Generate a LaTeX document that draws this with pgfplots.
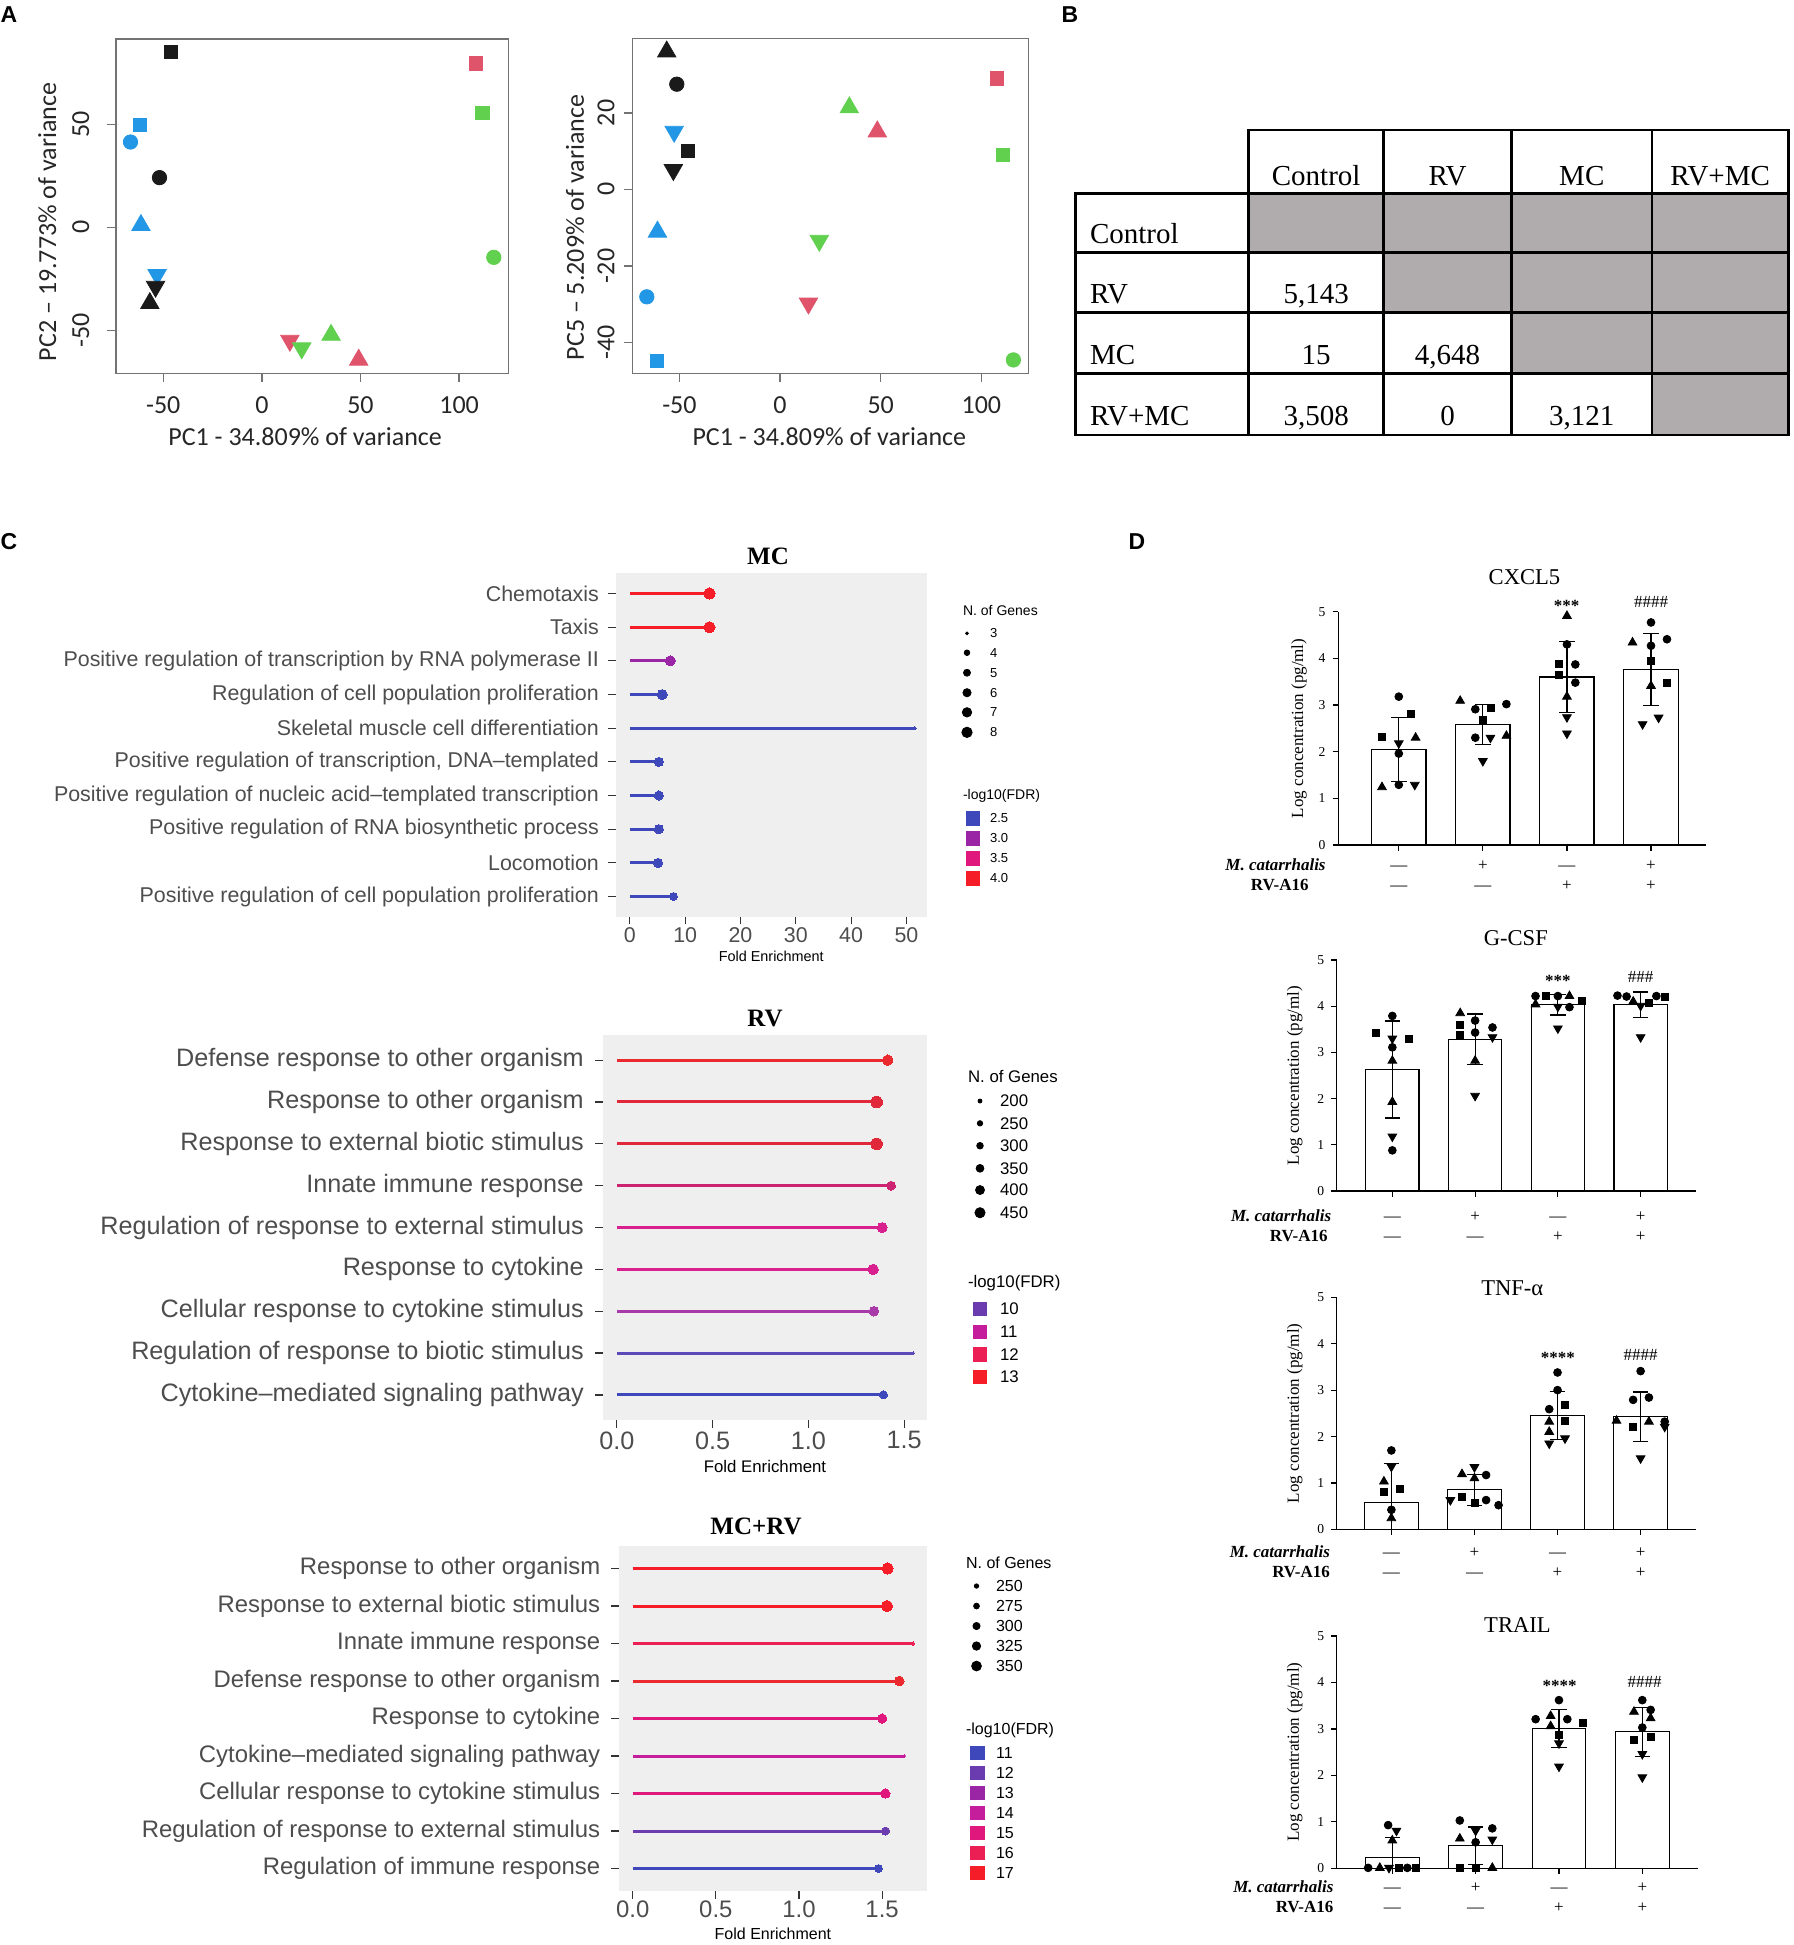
\documentclass[border=0pt]{standalone}
\usepackage{pgfplots}
\pgfplotsset{compat=1.18}
\usepackage{fontspec}
\setmainfont{Liberation Sans}
\newfontfamily\timesf{Liberation Serif}
\newfontfamily\calib{Carlito}
\newcommand{\fs}[1]{\fontsize{#1}{#1}\selectfont}

% R 4 palette for the PCA
\definecolor{rblack}{HTML}{1A1A1A}
\definecolor{rred}{HTML}{DF536B}
\definecolor{rgreen}{HTML}{61D04F}
\definecolor{rblue}{HTML}{2297E6}
% ggplot bits
\definecolor{ggbg}{HTML}{EFEFEF}
\definecolor{ggtext}{HTML}{4D4D4D}
\definecolor{ggtick}{HTML}{333333}
\definecolor{cellgray}{HTML}{B0ACAD}
% -log10(FDR) gradient, blue to red
\definecolor{fa}{HTML}{3F48BA}
\definecolor{fb}{HTML}{6A3CB0}
\definecolor{fc}{HTML}{9A26A6}
\definecolor{fd}{HTML}{C41E9C}
\definecolor{fe}{HTML}{E0187E}
\definecolor{ff}{HTML}{EC1F55}
\definecolor{fg}{HTML}{F51E28}
\definecolor{rvA}{HTML}{EA2A2E}
\definecolor{rvB}{HTML}{E0283A}
\definecolor{rvC}{HTML}{CC2470}
\definecolor{rvD}{HTML}{D8208E}
\definecolor{rvE}{HTML}{A83AAA}
\definecolor{rvF}{HTML}{5B4AB8}

\pgfplotsset{
  pca/.style={
    scale only axis, anchor=south west, clip=false,
    axis line style={black!55, line width=0.7pt},
    tick style={black!55, line width=0.7pt},
    tick align=outside, xtick pos=left, ytick pos=left,
    major tick length=4.2pt,
    /pgf/number format/assume math mode=true,
    ticklabel style={font=\calib\fs{13}, text=black!85},
    label style={font=\calib\fs{13}, text=black!85},
    yticklabel style={rotate=90, anchor=south},
    xticklabel shift=4.1pt,
    xtick={-50,0,50,100}, xmin=-74, xmax=125,
    xlabel={PC1 - 34.809\% of variance},
    xlabel style={anchor=center}, ylabel style={anchor=center},
  },
  sq/.style={only marks, mark=square*, mark size=3.3pt},
  ci/.style={only marks, mark=*, mark size=3.6pt},
  tu/.style={only marks, mark=triangle*, mark size=5.3pt},
  td/.style={only marks, mark=triangle*, mark size=5.3pt, mark options={rotate=180}},
  gg/.style={
    scale only axis, anchor=south west, clip=false, y dir=reverse,
    axis background/.style={fill=ggbg},
    axis line style={draw=none},
    tick align=outside, xtick pos=left, ytick pos=left,
    major tick length=3.8pt,
    tick style={ggtick, line width=0.6pt},
    ticklabel style={text=ggtext},
    /pgf/number format/assume math mode=true,
    xlabel={Fold Enrichment},
    xlabel style={anchor=center, text=black},
  },
  dd/.style={
    scale only axis, anchor=south west, clip=false,
    axis x line*=bottom, axis y line*=left,
    axis line style={black, line width=0.6pt},
    xtick pos=left, ytick pos=left, tick align=outside,
    major tick length=2.8pt,
    tick style={black, line width=0.6pt},
    ymin=0, ymax=5, ytick={0,1,2,3,4,5},
    xtick={0,1,2,3}, xticklabels={,,,},
    /pgf/number format/assume math mode=true,
    ticklabel style={font=\timesf\fs{6.8}},
    ylabel={Log concentration (pg/ml)},
    ylabel style={font=\timesf\fs{8.5}, anchor=center},
  },
  dbar/.style={ybar, bar width=0.645, fill=white, draw=black, line width=0.6pt,
    error bars/y dir=both, error bars/y explicit,
    error bars/error bar style={black, line width=0.6pt},
    error bars/error mark options={rotate=90, black, mark size=3.9pt, line width=0.6pt}},
  dsq/.style={only marks, mark=square*, mark size=1.75pt, black},
  dci/.style={only marks, mark=*, mark size=1.95pt, black},
  dtu/.style={only marks, mark=triangle*, mark size=2.5pt, black},
  dtd/.style={only marks, mark=triangle*, mark size=2.5pt, black, mark options={rotate=180}},
  tbl/.style={black, line width=1.3pt, line cap=rect},
}

% lollipop: colour, dot size, fold enrichment, row
\newcommand{\lol}[4]{\addplot[draw=#1, line width=1.5pt, mark=*, mark indices={2}, mark size=#2pt, mark options={fill=#1, draw=#1, line width=0pt}] coordinates {(0,#4) (#3,#4)};}
% legend keys in the page axis
\newcommand{\ldot}[3]{\addplot[only marks, mark=*, mark size=#1pt, black] coordinates {(#2,#3)};}
\newcommand{\lsq}[3]{\addplot[only marks, mark=square*, mark size=3.4pt, #1] coordinates {(#2,#3)};}

\begin{document}
\begin{tikzpicture}
\path[use as bounding box] (0pt,0pt) rectangle (897pt,-972.5pt);

% ---------- page axis: letters, table, titles, legends, labels ----------
\begin{axis}[at={(0pt,0pt)}, anchor=north west, scale only axis,
  width=897pt, height=972.5pt, xmin=0, xmax=1794, ymin=0, ymax=1945,
  y dir=reverse, hide axis, clip=false]
\node[font=\bfseries\fs{11.5}] at (axis cs:9,15) {A};
\node[font=\bfseries\fs{11.5}] at (axis cs:1070,15) {B};
\node[font=\bfseries\fs{11.5}] at (axis cs:9,542) {C};
\node[font=\bfseries\fs{11.5}] at (axis cs:1137,542) {D};

% table B
\addplot[fill=cellgray, draw=none] coordinates {(1248.7,193.3) (1788.3,193.3) (1788.3,435) (1652,435) (1652,373.3) (1511.5,373.3) (1511.5,312.3) (1383.6,312.3) (1383.6,252.7) (1248.7,252.7)};
\addplot[tbl] coordinates {(1248.7,130) (1788.3,130)};
\addplot[tbl] coordinates {(1075.2,193.3) (1788.3,193.3)};
\addplot[tbl] coordinates {(1075.2,252.7) (1788.3,252.7)};
\addplot[tbl] coordinates {(1075.2,312.3) (1788.3,312.3)};
\addplot[tbl] coordinates {(1075.2,373.3) (1788.3,373.3)};
\addplot[tbl] coordinates {(1075.2,435) (1788.3,435)};
\addplot[tbl] coordinates {(1075.2,193.3) (1075.2,435)};
\addplot[tbl] coordinates {(1248.7,130) (1248.7,435)};
\addplot[tbl] coordinates {(1383.6,130) (1383.6,435)};
\addplot[tbl] coordinates {(1511.5,130) (1511.5,435)};
\addplot[tbl] coordinates {(1652,130) (1652,435)};
\addplot[tbl] coordinates {(1788.3,130) (1788.3,435)};
\begin{scope}[every node/.style={font=\timesf\fs{14.5}}]
\node[anchor=base] at (axis cs:1316.2,185) {Control};
\node[anchor=base] at (axis cs:1447.6,185) {RV};
\node[anchor=base] at (axis cs:1581.8,185) {MC};
\node[anchor=base] at (axis cs:1720.2,185) {RV+MC};
\node[anchor=base west] at (axis cs:1083,243.3) {Control};
\node[anchor=base west] at (axis cs:1083,303.3) {RV};
\node[anchor=base west] at (axis cs:1083,364.3) {MC};
\node[anchor=base west] at (axis cs:1083,425) {RV+MC};
\node[anchor=base] at (axis cs:1316.2,303.3) {5,143};
\node[anchor=base] at (axis cs:1316.2,364.3) {15};
\node[anchor=base] at (axis cs:1447.6,364.3) {4,648};
\node[anchor=base] at (axis cs:1316.2,425) {3,508};
\node[anchor=base] at (axis cs:1447.6,425) {0};
\node[anchor=base] at (axis cs:1581.8,425) {3,121};
\end{scope}

% panel C titles
\node[font=\timesf\bfseries\fs{12.5}] at (axis cs:768,556.7) {MC};
\node[font=\timesf\bfseries\fs{12.5}] at (axis cs:765,1018.3) {RV};
\node[font=\timesf\bfseries\fs{12.5}] at (axis cs:756,1526.7) {MC+RV};

% legend MC
\node[anchor=west, font=\fs{7}] at (axis cs:956,610) {N. of Genes};
\ldot{0.7}{967}{633.3}
\ldot{1.4}{967}{652.7}
\ldot{1.75}{967}{672.7}
\ldot{2.05}{967}{692.7}
\ldot{2.35}{967}{712.3}
\ldot{2.6}{967}{732.3}
\begin{scope}[every node/.style={anchor=west, font=\fs{6.5}}]
\node at (axis cs:983,633.3) {3};
\node at (axis cs:983,652.7) {4};
\node at (axis cs:983,672.7) {5};
\node at (axis cs:983,692.7) {6};
\node at (axis cs:983,712.3) {7};
\node at (axis cs:983,732.3) {8};
\node at (axis cs:983,818.3) {2.5};
\node at (axis cs:983,838.3) {3.0};
\node at (axis cs:983,858.3) {3.5};
\node at (axis cs:983,878.3) {4.0};
\end{scope}
\node[anchor=west, font=\fs{7}] at (axis cs:956,795.7) {-log10(FDR)};
\lsq{fa}{973}{818.3}
\lsq{fc}{973}{838.3}
\lsq{fe}{973}{858.3}
\lsq{fg}{973}{878.3}

% legend RV
\node[anchor=west, font=\fs{8.4}] at (axis cs:961,1076) {N. of Genes};
\ldot{1.0}{980}{1101}
\ldot{1.35}{980}{1123.3}
\ldot{1.65}{980}{1145.7}
\ldot{1.95}{980}{1168.3}
\ldot{2.25}{980}{1190}
\ldot{2.55}{980}{1212.7}
\begin{scope}[every node/.style={anchor=west, font=\fs{8.4}}]
\node at (axis cs:993,1101) {200};
\node at (axis cs:993,1123.3) {250};
\node at (axis cs:993,1145.7) {300};
\node at (axis cs:993,1168.3) {350};
\node at (axis cs:993,1190) {400};
\node at (axis cs:993,1212.7) {450};
\node at (axis cs:993,1309) {10};
\node at (axis cs:993,1331.7) {11};
\node at (axis cs:993,1354.3) {12};
\node at (axis cs:993,1376.7) {13};
\end{scope}
\node[anchor=west, font=\fs{8.4}] at (axis cs:961,1283.3) {-log10(FDR)};
\lsq{fb}{980}{1309}
\lsq{fd}{980}{1331.7}
\lsq{ff}{980}{1354.3}
\lsq{fg}{980}{1376.7}

% legend MC+RV
\node[anchor=west, font=\fs{8}] at (axis cs:959,1562.7) {N. of Genes};
\ldot{1.1}{976.5}{1586}
\ldot{1.45}{976.5}{1606}
\ldot{1.8}{976.5}{1626}
\ldot{2.1}{976.5}{1646}
\ldot{2.45}{976.5}{1666}
\begin{scope}[every node/.style={anchor=west, font=\fs{8}}]
\node at (axis cs:989,1586) {250};
\node at (axis cs:989,1606) {275};
\node at (axis cs:989,1626) {300};
\node at (axis cs:989,1646) {325};
\node at (axis cs:989,1666) {350};
\node at (axis cs:989,1752.7) {11};
\node at (axis cs:989,1772.7) {12};
\node at (axis cs:989,1792.7) {13};
\node at (axis cs:989,1812.7) {14};
\node at (axis cs:989,1832.7) {15};
\node at (axis cs:989,1852.7) {16};
\node at (axis cs:989,1872.7) {17};
\end{scope}
\node[anchor=west, font=\fs{8}] at (axis cs:959,1730) {-log10(FDR)};
\lsq{fa}{977.3}{1752.7}
\lsq{fb}{977.3}{1772.7}
\lsq{fc}{977.3}{1792.7}
\lsq{fd}{977.3}{1812.7}
\lsq{fe}{977.3}{1832.7}
\lsq{ff}{977.3}{1852.7}
\lsq{fg}{977.3}{1872.7}

% panel D titles and significance
\begin{scope}[every node/.style={font=\timesf\fs{11.3}}]
\node at (axis cs:1524.5,576.7) {CXCL5};
\node at (axis cs:1515.8,938.3) {G-CSF};
\node at (axis cs:1512.3,1288.3) {TNF-α};
\node at (axis cs:1517.5,1625) {TRAIL};
\end{scope}
\begin{scope}[every node/.style={font=\timesf\fs{8.5}}]
\node at (axis cs:1566.5,606) {\bfseries ***};
\node at (axis cs:1651,601.7) {\#\#\#\#};
\node at (axis cs:1557.8,981) {\bfseries ***};
\node at (axis cs:1640.6,976.7) {\#\#\#};
\node at (axis cs:1557.8,1358) {\bfseries ****};
\node at (axis cs:1640.6,1355) {\#\#\#\#};
\node at (axis cs:1559.5,1685.5) {\bfseries ****};
\node at (axis cs:1644.5,1681.7) {\#\#\#\#};
\end{scope}

% panel D treatment rows
\begin{scope}[every node/.style={font=\timesf\fs{8.5}, text height=1.6ex, text depth=0pt, inner sep=0pt}]
\node[anchor=east] at (axis cs:1326,862.2) {\bfseries\itshape M. catarrhalis};
\node[anchor=east] at (axis cs:1309,882.2) {\bfseries RV-A16};
\node at (axis cs:1398.8,862.2) {—}; \node at (axis cs:1482.9,862.2) {+};
\node at (axis cs:1566.9,862.2) {—}; \node at (axis cs:1651,862.2) {+};
\node at (axis cs:1398.8,882.2) {—}; \node at (axis cs:1482.9,882.2) {—};
\node at (axis cs:1566.9,882.2) {+}; \node at (axis cs:1651,882.2) {+};

\node[anchor=east] at (axis cs:1331.6,1213.2) {\bfseries\itshape M. catarrhalis};
\node[anchor=east] at (axis cs:1328,1233.2) {\bfseries RV-A16};
\node at (axis cs:1392.3,1213.2) {—}; \node at (axis cs:1475.1,1213.2) {+};
\node at (axis cs:1557.8,1213.2) {—}; \node at (axis cs:1640.6,1213.2) {+};
\node at (axis cs:1392.3,1233.2) {—}; \node at (axis cs:1475.1,1233.2) {—};
\node at (axis cs:1557.8,1233.2) {+}; \node at (axis cs:1640.6,1233.2) {+};

\node[anchor=east] at (axis cs:1330.3,1549.2) {\bfseries\itshape M. catarrhalis};
\node[anchor=east] at (axis cs:1330.3,1569.2) {\bfseries RV-A16};
\node at (axis cs:1391.4,1549.2) {—}; \node at (axis cs:1474.5,1549.2) {+};
\node at (axis cs:1557.5,1549.2) {—}; \node at (axis cs:1640.6,1549.2) {+};
\node at (axis cs:1391.4,1569.2) {—}; \node at (axis cs:1474.5,1569.2) {—};
\node at (axis cs:1557.5,1569.2) {+}; \node at (axis cs:1640.6,1569.2) {+};

\node[anchor=east] at (axis cs:1333.8,1884.3) {\bfseries\itshape M. catarrhalis};
\node[anchor=east] at (axis cs:1333.8,1903.7) {\bfseries RV-A16};
\node at (axis cs:1392.3,1884.3) {—}; \node at (axis cs:1475.6,1884.3) {+};
\node at (axis cs:1559,1884.3) {—}; \node at (axis cs:1642.3,1884.3) {+};
\node at (axis cs:1392.3,1903.7) {—}; \node at (axis cs:1475.6,1903.7) {—};
\node at (axis cs:1559,1903.7) {+}; \node at (axis cs:1642.3,1903.7) {+};
\end{scope}
\end{axis}

% ---------- A: PCA PC1 vs PC2 ----------
\begin{axis}[pca, at={(57.95pt,-186.65pt)}, width=196.25pt, height=167.15pt,
  ymin=-70.9, ymax=91.4, ytick={-50,0,50}, yticklabel shift=5.6pt,
  ylabel={PC2 – 19.773\% of variance},
  ylabel style={at={(axis description cs:-0.175,0.453)}},
  xlabel style={at={(axis description cs:0.482,-0.19)}}]
\addplot[sq, rblack] coordinates {(-46.2,85.3)};
\addplot[ci, rblack] coordinates {(-51.9,24.1)};
\addplot[td, rblue] coordinates {(-53.1,-23.1)};
\addplot[td, rblack] coordinates {(-53.9,-28.8)};
\addplot[tu, rblack] coordinates {(-56.8,-36.9)};
\addplot[sq, rblue] coordinates {(-62,49.7)};
\addplot[ci, rblue] coordinates {(-66.6,41.4)};
\addplot[tu, rblue] coordinates {(-61.3,1.0)};
\addplot[sq, rred] coordinates {(108.7,79.6)};
\addplot[td, rred] coordinates {(14.2,-55)};
\addplot[tu, rred] coordinates {(49.1,-64.4)};
\addplot[sq, rgreen] coordinates {(111.8,55.7)};
\addplot[ci, rgreen] coordinates {(117.6,-14.6)};
\addplot[tu, rgreen] coordinates {(35.1,-52.3)};
\addplot[td, rgreen] coordinates {(20.2,-58.7)};
\end{axis}

% ---------- A: PCA PC1 vs PC5 ----------
\begin{axis}[pca, at={(316.35pt,-186.65pt)}, width=197.8pt, height=167.5pt,
  xmin=-73.2, xmax=123.3, ymin=-48.1, ymax=39.5, ytick={-40,-20,0,20},
  yticklabel shift=1.3pt,
  ylabel={PC5 – 5.209\% of variance},
  ylabel style={at={(axis description cs:-0.146,0.435)}},
  xlabel style={at={(axis description cs:0.497,-0.19)}}]
\addplot[tu, rblack] coordinates {(-56.3,36)};
\addplot[ci, rblack] coordinates {(-51.3,27.5)};
\addplot[sq, rblack] coordinates {(-45.9,10.1)};
\addplot[td, rblack] coordinates {(-53,5.1)};
\addplot[td, rblue] coordinates {(-52.6,15.1)};
\addplot[tu, rblue] coordinates {(-60.9,-11.1)};
\addplot[ci, rblue] coordinates {(-66.2,-28.1)};
\addplot[sq, rblue] coordinates {(-61.3,-44.9)};
\addplot[sq, rred] coordinates {(107.6,29)};
\addplot[tu, rred] coordinates {(48.3,15.1)};
\addplot[td, rred] coordinates {(14.1,-29.8)};
\addplot[tu, rgreen] coordinates {(34.4,21.4)};
\addplot[sq, rgreen] coordinates {(110.6,9)};
\addplot[td, rgreen] coordinates {(19.5,-13.4)};
\addplot[ci, rgreen] coordinates {(115.9,-44.6)};
\end{axis}

% ---------- C: MC ----------
\begin{axis}[gg, at={(307.85pt,-458.35pt)}, width=155.6pt, height=171.7pt,
  xmin=-2.56, xmax=53.7, ymin=0.4, ymax=10.6,
  xtick={0,10,20,30,40,50}, ytick={1,...,10},
  yticklabels={Chemotaxis, Taxis, Positive regulation of transcription by RNA polymerase II,
    Regulation of cell population proliferation, Skeletal muscle cell differentiation,
    {Positive regulation of transcription, DNA–templated},
    Positive regulation of nucleic acid–templated transcription,
    Positive regulation of RNA biosynthetic process, Locomotion,
    Positive regulation of cell population proliferation},
  ticklabel style={font=\fs{10.7}}, yticklabel shift=1.1pt, xticklabel shift=-1.9pt,
  xlabel style={font=\fs{7.2}, at={(axis description cs:0.5,-0.1165)}}]
\lol{fg}{2.8}{14.4}{1}
\lol{fg}{2.8}{14.4}{2}
\lol{fc}{2.5}{7.3}{3}
\lol{fa}{2.5}{5.85}{4}
\lol{fa}{0.8}{51.5}{5}
\lol{fa}{2.3}{5.24}{6}
\lol{fa}{2.3}{5.24}{7}
\lol{fa}{2.3}{5.24}{8}
\lol{fa}{2.3}{5.1}{9}
\lol{fa}{2.0}{7.9}{10}
\end{axis}

% ---------- C: RV ----------
\begin{axis}[gg, at={(301.5pt,-710pt)}, width=162pt, height=192.5pt,
  xmin=-0.072, xmax=1.619, ymin=0.4, ymax=9.6,
  xtick={0,0.5,1,1.5}, xticklabels={0.0,0.5,1.0,1.5}, ytick={1,...,9},
  yticklabels={Defense response to other organism, Response to other organism,
    Response to external biotic stimulus, Innate immune response,
    Regulation of response to external stimulus, Response to cytokine,
    Cellular response to cytokine stimulus, Regulation of response to biotic stimulus,
    Cytokine–mediated signaling pathway},
  ticklabel style={font=\fs{12.6}}, yticklabel shift=2.3pt, xticklabel shift=-1.6pt,
  xlabel style={font=\fs{8.4}, at={(axis description cs:0.5,-0.121)}}]
\lol{rvA}{2.6}{1.414}{1}
\lol{rvB}{2.9}{1.356}{2}
\lol{rvB}{2.9}{1.356}{3}
\lol{rvC}{2.2}{1.432}{4}
\lol{rvD}{2.5}{1.385}{5}
\lol{rvD}{2.6}{1.338}{6}
\lol{rvE}{2.4}{1.342}{7}
\lol{rvF}{0.7}{1.547}{8}
\lol{fa}{2.0}{1.392}{9}
\end{axis}

% ---------- C: MC+RV ----------
\begin{axis}[gg, at={(309.45pt,-945.5pt)}, width=154.05pt, height=172.5pt,
  xmin=-0.083, xmax=1.77, ymin=0.4, ymax=9.6,
  xtick={0,0.5,1,1.5}, xticklabels={0.0,0.5,1.0,1.5}, ytick={1,...,9},
  yticklabels={Response to other organism, Response to external biotic stimulus,
    Innate immune response, Defense response to other organism, Response to cytokine,
    Cytokine–mediated signaling pathway, Cellular response to cytokine stimulus,
    Regulation of response to external stimulus, Regulation of immune response},
  ticklabel style={font=\fs{11.95}}, yticklabel shift=2pt, xticklabel shift=-2.4pt,
  xlabel style={font=\fs{8}, at={(axis description cs:0.5,-0.1226)}}]
\lol{fg}{2.8}{1.533}{1}
\lol{fg}{2.8}{1.529}{2}
\lol{ff}{0.9}{1.686}{3}
\lol{rvA}{2.4}{1.603}{4}
\lol{fe}{2.3}{1.5}{5}
\lol{fd}{0.6}{1.636}{6}
\lol{fe}{2.3}{1.52}{7}
\lol{fb}{2.0}{1.52}{8}
\lol{fa}{1.9}{1.479}{9}
\end{axis}

% ---------- D: CXCL5 ----------
\begin{axis}[dd, at={(669.05pt,-422.5pt)}, width=184.15pt, height=116.65pt,
  xmin=-0.722, xmax=3.659, ylabel style={at={(axis description cs:-0.106,0.5)}}]
\addplot[dbar] coordinates {(0,2.05) +- (0,0.69) (1,2.59) +- (0,0.43) (2,3.60) +- (0,0.765) (3,3.76) +- (0,0.77)};
\addplot[dci] coordinates {(0,3.18) (0,1.96) (0,1.29) (0.91,2.91) (0.91,2.30) (1.28,3.02) (2,4.30) (2.1,3.87) (2.1,3.48) (3,4.77) (3,4.27) (3.19,4.41)};
\addplot[dsq] coordinates {(0.14,2.81) (-0.2,2.31) (1.09,2.93) (1,2.68) (1.9,3.89) (1.9,3.64) (3,3.95) (3.19,3.48)};
\addplot[dtu] coordinates {(0.2,2.30) (-0.2,1.24) (0.73,3.09) (1.28,2.34) (2,4.91) (2,3.18) (2.78,4.34) (3,3.41)};
\addplot[dtd] coordinates {(0,2.18) (0.19,1.29) (1.09,2.30) (1,1.80) (2,2.74) (2,2.39) (2.9,2.59) (3.09,2.73)};
\end{axis}

% ---------- D: G-CSF ----------
\begin{axis}[dd, at={(668.4pt,-595.5pt)}, width=179.4pt, height=115.5pt,
  xmin=-0.671, xmax=3.664, ylabel style={at={(axis description cs:-0.117,0.5)}}]
\addplot[dbar] coordinates {(0,2.63) +- (0,1.05) (1,3.28) +- (0,0.55) (2,4.03) +- (0,0.22) (3,4.03) +- (0,0.28)};
\addplot[dci] coordinates {(0,3.79) (0,3.11) (0,0.88) (1,3.69) (1.21,3.54) (1,3.43) (1.73,4.22) (2,4.22) (2.14,3.98) (2.72,4.23) (2.83,4.21) (3.19,4.22)};
\addplot[dsq] coordinates {(-0.2,3.43) (0.2,3.30) (0.82,3.59) (0.82,3.38) (1.86,4.22) (2.29,4.11) (3.29,4.21) (3.1,4.08)};
\addplot[dtu] coordinates {(0,2.82) (0,1.93) (0.82,3.85) (1,2.82) (2.14,4.22) (1.73,4.04) (2.91,4.10)};
\addplot[dtd] coordinates {(0,3.30) (0,1.18) (1.21,3.33) (1,2.06) (2,3.99) (2,3.52) (3,4.01) (3,3.33)};
\end{axis}

% ---------- D: TNF-alpha ----------
\begin{axis}[dd, at={(668.4pt,-764.65pt)}, width=179.4pt, height=116pt,
  xmin=-0.657, xmax=3.662, ylabel style={at={(axis description cs:-0.117,0.5)}}]
\addplot[dbar] coordinates {(0,0.58) += (0,0.83) -= (0,0.58) (1,0.85) +- (0,0.34) (2,2.45) +- (0,0.52) (3,2.43) +- (0,0.53)};
\addplot[dci] coordinates {(0,1.70) (0,0.42) (1.14,1.17) (1.14,0.63) (1.29,0.52) (2,3.38) (2,3.0) (1.9,2.59) (3,3.41) (2.91,2.79) (3.1,2.84) (3.29,2.32)};
\addplot[dsq] coordinates {(-0.09,0.81) (0.1,0.87) (0.85,0.69) (1,0.58) (2.09,2.69) (2.09,2.34) (2.91,2.21)};
\addplot[dtu] coordinates {(-0.09,1.03) (0,0.24) (0.85,1.19) (1,1.10) (1.9,2.32) (1.9,2.10) (2.71,2.34) (3.1,2.32)};
\addplot[dtd] coordinates {(0,1.35) (1,1.34) (0.71,0.63) (1.9,1.85) (2.09,1.96) (3.29,2.21) (3,1.53)};
\end{axis}

% ---------- D: TRAIL ----------
\begin{axis}[dd, at={(668.4pt,-934.15pt)}, width=180.5pt, height=116.15pt,
  xmin=-0.666, xmax=3.666, ylabel style={at={(axis description cs:-0.116,0.5)}}]
\addplot[dbar] coordinates {(0,0.24) += (0,0.42) -= (0,0.24) (1,0.49) +- (0,0.40) (2,3.01) +- (0,0.41) (3,2.94) +- (0,0.53)};
\addplot[dci] coordinates {(-0.05,0.93) (-0.29,0.01) (0.18,0.01) (0.81,1.03) (1.2,0.86) (1,0.56) (2,3.62) (1.72,3.21) (2.1,3.21) (3,3.62) (3.1,3.41) (3,3.03)};
\addplot[dsq] coordinates {(0.08,0.01) (0.28,0.01) (0.81,0.01) (1,0.01) (2.29,3.12) (2,2.87) (2.9,2.76) (3.1,2.82)};
\addplot[dtu] coordinates {(0,0.60) (-0.15,0.01) (0.81,0.64) (1.2,0.01) (1.9,3.28) (1.9,3.06) (2.9,3.37) (3.1,3.23)};
\addplot[dtd] coordinates {(0.05,0.81) (-0.04,0.01) (1,0.81) (1.2,0.62) (2,2.69) (2,2.19) (3,2.46) (3,1.96)};
\end{axis}
\end{tikzpicture}
\end{document}
